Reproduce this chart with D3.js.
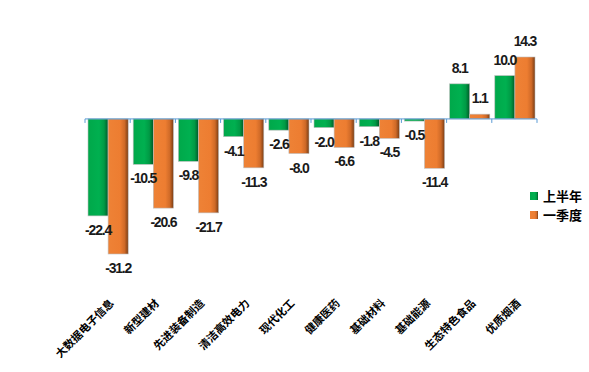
<!DOCTYPE html>
<html>
<head>
<meta charset="utf-8">
<script src="https://cdnjs.cloudflare.com/ajax/libs/d3/7.8.5/d3.min.js"></script>
<style>
  body { margin: 0; background: #fff; }
  text { font-family: "Liberation Sans", "Noto Sans CJK SC", sans-serif; }
</style>
</head>
<body>
<div class="chart"></div>
<script>
const categories = ["大数据电子信息", "新型建材", "先进装备制造", "清洁高效电力", "现代化工",
                    "健康医药", "基础材料", "基础能源", "生态特色食品", "优质烟酒"];
const firstHalf = [-22.4, -10.5, -9.8, -4.1, -2.6, -2.0, -1.8, -0.5, 8.1, 10.0];
const firstQuarter = [-31.2, -20.6, -21.7, -11.3, -8.0, -6.6, -4.5, -11.4, 1.1, 14.3];
const seriesNames = ["上半年", "一季度"];

const width = 589, height = 372;
const svg = d3.select(".chart").append("svg")
    .attr("width", width)
    .attr("height", height);

// gradients for the shaded bars
const defs = svg.append("defs");
function grad(id, stops) {
  const g = defs.append("linearGradient").attr("id", id)
    .attr("x1", "0%").attr("x2", "100%").attr("y1", "0%").attr("y2", "0%");
  stops.forEach(s => g.append("stop").attr("offset", s[0]).attr("stop-color", s[1]));
}
grad("gGreen", [["0%", "#00a84a"], ["55%", "#00b050"], ["80%", "#009a45"], ["100%", "#005a28"]]);
grad("gOrange", [["0%", "#ee8236"], ["60%", "#ed7d31"], ["82%", "#cf6a28"], ["100%", "#7a3d14"]]);

const x0 = d3.scaleBand().domain(categories).range([85, 537]).paddingInner(0).paddingOuter(0);
const x1 = d3.scaleBand().domain(seriesNames).range([3, x0.bandwidth() - 2]).padding(0);
const y = d3.scaleLinear().domain([-31.2, 14.3]).range([254, 57]);

const data = categories.map((c, i) => ({cat: c, vals: [firstHalf[i], firstQuarter[i]]}));
const fills = ["url(#gGreen)", "url(#gOrange)"];

const groups = svg.selectAll(".grp").data(data).enter().append("g")
    .attr("class", "grp")
    .attr("transform", d => `translate(${x0(d.cat)},0)`);

groups.selectAll("rect").data(d => d.vals.map((v, k) => ({v, k}))).enter().append("rect")
    .attr("x", d => x1(seriesNames[d.k]))
    .attr("width", x1.bandwidth())
    .attr("y", d => Math.min(y(0), y(d.v)))
    .attr("height", d => Math.abs(y(d.v) - y(0)))
    .attr("fill", d => fills[d.k])
    .attr("stroke", "#bdbdbd")
    .attr("stroke-width", 0.6);

groups.selectAll(".lbl").data(d => d.vals.map((v, k) => ({v, k}))).enter().append("text")
    .attr("class", "lbl")
    .attr("x", d => x1(seriesNames[d.k]) + x1.bandwidth() / 2)
    .attr("y", d => d.v < 0 ? y(d.v) + 19 : y(d.v) - 11)
    .attr("text-anchor", "middle")
    .attr("font-size", 14)
    .attr("font-weight", "bold")
    .attr("letter-spacing", "-1.2px")
    .attr("fill", "#1a1a1a")
    .text(d => d.v.toFixed(1));

// zero axis with ticks
const axis = svg.append("g");
axis.append("line")
    .attr("x1", 85).attr("x2", 537)
    .attr("y1", y(0)).attr("y2", y(0))
    .attr("stroke", "#5b9bd5").attr("stroke-width", 1);
axis.selectAll(".tk").data(d3.range(categories.length + 1)).enter().append("line")
    .attr("x1", i => 85 + i * x0.bandwidth()).attr("x2", i => 85 + i * x0.bandwidth())
    .attr("y1", y(0)).attr("y2", y(0) + 4)
    .attr("stroke", "#5b9bd5");

// category labels, rotated
svg.selectAll(".cat").data(categories).enter().append("text")
    .attr("class", "cat")
    .attr("transform", c => `translate(${x0(c) + x0.bandwidth() / 2 + 7},304) rotate(-45)`)
    .attr("text-anchor", "end")
    .attr("font-size", 11)
    .attr("font-weight", "bold")
    .attr("font-family", "Noto Sans CJK SC")
    .text(c => c);

// legend
const legend = svg.append("g").attr("transform", "translate(530,192)");
seriesNames.forEach((s, k) => {
  legend.append("rect").attr("x", 0).attr("y", k * 19).attr("width", 8).attr("height", 8)
    .attr("fill", fills[k]);
  legend.append("text").attr("x", 13).attr("y", k * 19 + 9)
    .attr("font-size", 13).attr("font-weight", "bold")
    .attr("font-family", "Noto Sans CJK SC")
    .text(s);
});
</script>
</body>
</html>
